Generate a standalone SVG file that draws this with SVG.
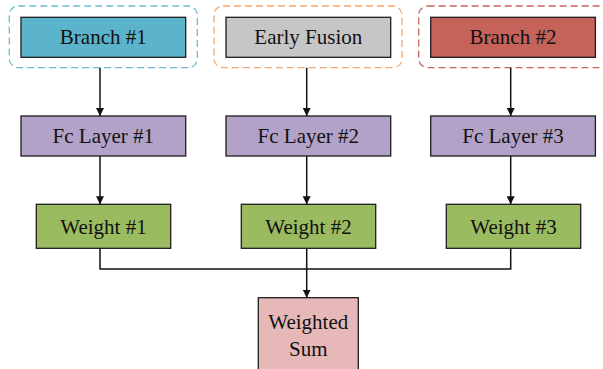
<svg xmlns="http://www.w3.org/2000/svg" width="603" height="369" viewBox="0 0 603 369">
  <style>
    .box { stroke: #1e1e1e; stroke-width: 1.3; }
    .group { fill: none; stroke-width: 1.3; stroke-dasharray: 7 4; }
    .lbl { font-family: "Liberation Serif", "Times New Roman", serif; font-size: 21px; fill: #111; text-anchor: middle; }
    .edge { fill: none; stroke: #111; stroke-width: 1.5; }
    .branch1 { fill: #5BB4CB; }
    .fusion { fill: #C6C6C6; }
    .branch2 { fill: #C5625A; }
    .fc { fill: #B2A2C7; }
    .weight { fill: #9BBB60; }
    .sum { fill: #E6B9B8; }
  </style>
  <defs>
    <marker id="arrow" viewBox="0 0 10 10" refX="10" refY="5" markerWidth="8" markerHeight="8" markerUnits="userSpaceOnUse" orient="auto">
      <path d="M0,0 L10,5 L0,10 z" fill="#111"/>
    </marker>
  </defs>
  <rect width="603" height="369" fill="#fff"/>

  <!-- input row, each inside a dashed rounded frame -->
  <g id="branch1">
    <rect class="group" x="9.3" y="6" width="188" height="61.7" rx="9" stroke="#6DBAD3"/>
    <rect class="box branch1" x="21" y="17.3" width="164.7" height="40"/>
    <text class="lbl" x="103.3" y="44">Branch #1</text>
  </g>
  <g id="early-fusion">
    <rect class="group" x="214" y="6" width="188" height="61.7" rx="9" stroke="#F6A66C"/>
    <rect class="box fusion" x="226" y="17.3" width="164.7" height="40"/>
    <text class="lbl" x="308.3" y="44">Early Fusion</text>
  </g>
  <g id="branch2">
    <rect class="group" x="418.7" y="6" width="189" height="61.7" rx="9" stroke="#C8625C"/>
    <rect class="box branch2" x="430.7" y="17.3" width="164.7" height="40"/>
    <text class="lbl" x="513" y="44">Branch #2</text>
  </g>

  <!-- fully connected layers -->
  <g id="fc1">
    <rect class="box fc" x="21" y="116" width="164.7" height="40"/>
    <text class="lbl" x="103.3" y="143">Fc Layer #1</text>
  </g>
  <g id="fc2">
    <rect class="box fc" x="226" y="116" width="164.7" height="40"/>
    <text class="lbl" x="308.3" y="143">Fc Layer #2</text>
  </g>
  <g id="fc3">
    <rect class="box fc" x="430.7" y="116" width="164.7" height="40"/>
    <text class="lbl" x="513" y="143">Fc Layer #3</text>
  </g>

  <!-- weights -->
  <g id="weight1">
    <rect class="box weight" x="36.3" y="204.3" width="134.4" height="44"/>
    <text class="lbl" x="103.5" y="234">Weight #1</text>
  </g>
  <g id="weight2">
    <rect class="box weight" x="241.3" y="204.3" width="134.4" height="44"/>
    <text class="lbl" x="308.5" y="234">Weight #2</text>
  </g>
  <g id="weight3">
    <rect class="box weight" x="446.3" y="204.3" width="134.4" height="44"/>
    <text class="lbl" x="513.5" y="234">Weight #3</text>
  </g>

  <!-- output -->
  <g id="weighted-sum">
    <rect class="box sum" x="258.3" y="297.7" width="100" height="80"/>
    <text class="lbl" x="308.3" y="329">Weighted</text>
    <text class="lbl" x="308.3" y="356">Sum</text>
  </g>

  <g id="connectors">
    <line class="edge" x1="100" y1="67.7" x2="100" y2="116" marker-end="url(#arrow)"/>
    <line class="edge" x1="306.7" y1="67.7" x2="306.7" y2="116" marker-end="url(#arrow)"/>
    <line class="edge" x1="510.7" y1="67.7" x2="510.7" y2="116" marker-end="url(#arrow)"/>
    <line class="edge" x1="100" y1="156" x2="100" y2="204.3" marker-end="url(#arrow)"/>
    <line class="edge" x1="306.7" y1="156" x2="306.7" y2="204.3" marker-end="url(#arrow)"/>
    <line class="edge" x1="510.7" y1="156" x2="510.7" y2="204.3" marker-end="url(#arrow)"/>
    <polyline class="edge" points="100,248.3 100,269 510.7,269 510.7,248.3"/>
    <line class="edge" x1="306.7" y1="248.3" x2="306.7" y2="297.7" marker-end="url(#arrow)"/>
  </g>
</svg>
